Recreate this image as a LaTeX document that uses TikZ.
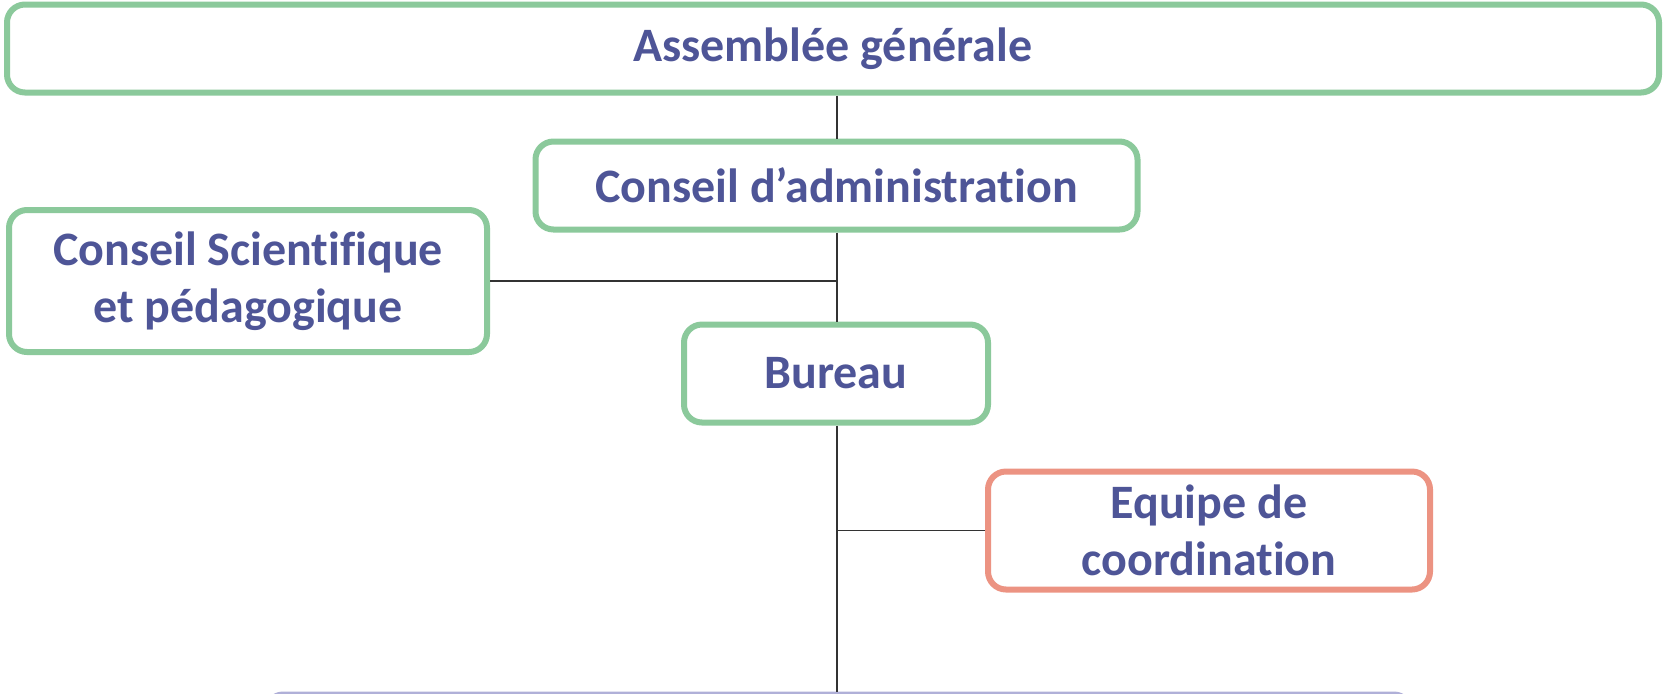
\documentclass[tikz,border=0pt]{standalone}
\usepackage{fontspec}
\setmainfont{Carlito}[RawFeature={-liga}]
\definecolor{vert}{HTML}{8BC99B}
\definecolor{saumon}{HTML}{EC9382}
\definecolor{lavande}{HTML}{B0B0D8}
\definecolor{texte}{HTML}{4E5597}
\tikzset{
  boite/.style={draw, rounded corners=9pt, line width=3pt, fill=white,
    text=texte, font=\fontsize{24}{28.5}\selectfont\bfseries, align=center, inner sep=0pt},
  boiteverte/.style={boite, draw=vert},
  boiterouge/.style={boite, draw=saumon},
  trait/.style={line width=0.6pt, draw=black!80}
}
\begin{document}
\begin{tikzpicture}[x=0.5pt, y=-0.5pt]
\clip (0,0) rectangle (1666,693);
\useasboundingbox (0,0) rectangle (1666,693);

% Axe vertical
\coordinate (axe) at (837,0);

% Boîtes
\node[boiteverte, minimum width=826pt, minimum height=44pt] (ag) at (833,48.5) {Assemblée générale};
\node[boiteverte, minimum width=301pt, minimum height=44pt] (ca) at (836.5,185.5) {Conseil d’administration};
\node[boiteverte, minimum width=239pt, minimum height=71pt] (cs) at (248,281) {Conseil Scientifique\\et pédagogique};
\node[boiteverte, minimum width=152pt, minimum height=49pt] (bureau) at (836,373.5) {Bureau};
\node[boiterouge, minimum width=221pt, minimum height=59pt] (equipe) at (1209,530.5) {Equipe de\\coordination};
\node[boite, draw=lavande, line width=1.5pt, minimum width=573.5pt, minimum height=50pt] (bas) at (838.5,743) {};

% Traits
\coordinate (jcs) at (axe |- cs.east);
\coordinate (jeq) at (axe |- equipe.west);
\draw[trait] (ag.south -| axe) -- (ca.north -| axe);
\draw[trait] (ca.south -| axe) -- (bureau.north -| axe);
\draw[trait] (bureau.south -| axe) -- (bas.north -| axe);
\draw[trait] (cs.east) -- (jcs);
\draw[trait] (jeq) -- (equipe.west);

\end{tikzpicture}
\end{document}
